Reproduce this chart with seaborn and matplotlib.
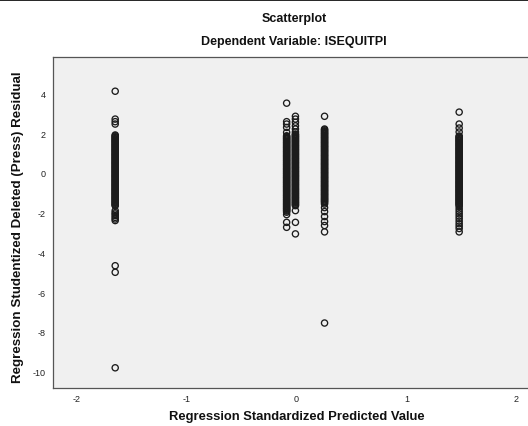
import matplotlib
matplotlib.use("Agg")
import matplotlib.pyplot as plt
from matplotlib.lines import Line2D
import pandas as pd
import seaborn as sns

# Standardized predicted values (one vertical band per predicted level)
pred_levels = [-1.65, -0.09, -0.01, 0.255, 1.48]

# Studentized deleted residuals observed at each predicted level
resid_a = [4.1, 2.7, 2.57, 2.45,
           1.9, 1.86, 1.81, 1.77, 1.72, 1.68, 1.63, 1.59, 1.55, 1.5, 1.46, 1.41, 1.37,
           1.33, 1.28, 1.24, 1.19, 1.15, 1.11, 1.06, 1.02, 0.97, 0.93, 0.89, 0.84, 0.8,
           0.75, 0.71, 0.67, 0.62, 0.58, 0.53, 0.49, 0.45, 0.4, 0.36, 0.31, 0.27, 0.23,
           0.18, 0.14, 0.09, 0.05, 0.01, -0.04, -0.08, -0.13, -0.17, -0.21, -0.26, -0.3,
           -0.35, -0.39, -0.43, -0.48, -0.52, -0.57, -0.61, -0.65, -0.7, -0.74, -0.79,
           -0.83, -0.87, -0.92, -0.96, -1.01, -1.05, -1.09, -1.14, -1.18, -1.23, -1.27,
           -1.31, -1.36, -1.4, -1.45, -1.49, -1.53, -1.58, -1.62, -1.65,
           -1.9, -2.0, -2.07, -2.15, -2.24, -2.32, -2.4, -4.67, -5.0, -9.8]
resid_b = [3.5, 2.57, 2.45, 2.28, 2.03,
           1.86, 1.82, 1.77, 1.73, 1.69, 1.64, 1.6, 1.55, 1.51, 1.47, 1.42, 1.38, 1.33,
           1.29, 1.25, 1.2, 1.16, 1.11, 1.07, 1.03, 0.98, 0.94, 0.89, 0.85, 0.81, 0.76,
           0.72, 0.67, 0.63, 0.59, 0.54, 0.5, 0.45, 0.41, 0.37, 0.32, 0.28, 0.23, 0.19,
           0.15, 0.1, 0.06, 0.01, -0.03, -0.07, -0.12, -0.16, -0.21, -0.25, -0.29, -0.34,
           -0.38, -0.43, -0.47, -0.51, -0.56, -0.6, -0.65, -0.69, -0.73, -0.78, -0.82,
           -0.87, -0.91, -0.95, -1.0, -1.04, -1.09, -1.13, -1.17, -1.22, -1.26, -1.31,
           -1.35, -1.39, -1.44, -1.48, -1.53, -1.57, -1.61, -1.66, -1.7, -1.75, -1.79,
           -1.83, -1.88, -1.92, -1.98, -2.1, -2.49, -2.74]
resid_c = [2.84, 2.7, 2.54, 2.36, 2.2, 2.05,
           1.95, 1.91, 1.86, 1.82, 1.78, 1.73, 1.69, 1.64, 1.6, 1.56, 1.51, 1.47, 1.42,
           1.38, 1.34, 1.29, 1.25, 1.2, 1.16, 1.12, 1.07, 1.03, 0.98, 0.94, 0.9, 0.85,
           0.81, 0.76, 0.72, 0.68, 0.63, 0.59, 0.54, 0.5, 0.46, 0.41, 0.37, 0.32, 0.28,
           0.24, 0.19, 0.15, 0.1, 0.06, 0.02, -0.03, -0.07, -0.12, -0.16, -0.2, -0.25,
           -0.29, -0.34, -0.38, -0.42, -0.47, -0.51, -0.56, -0.6, -0.64, -0.69, -0.73,
           -0.78, -0.82, -0.86, -0.91, -0.95, -1.0, -1.04, -1.08, -1.13, -1.17, -1.22,
           -1.26, -1.3, -1.35, -1.39, -1.44, -1.48, -1.52, -1.57, -1.61, -1.65,
           -1.9, -2.49, -3.07]
resid_d = [2.84,
           2.2, 2.16, 2.11, 2.07, 2.02, 1.98, 1.94, 1.89, 1.85, 1.8, 1.76, 1.72, 1.67,
           1.63, 1.58, 1.54, 1.5, 1.45, 1.41, 1.36, 1.32, 1.28, 1.23, 1.19, 1.14, 1.1,
           1.06, 1.01, 0.97, 0.92, 0.88, 0.84, 0.79, 0.75, 0.7, 0.66, 0.62, 0.57, 0.53,
           0.48, 0.44, 0.4, 0.35, 0.31, 0.26, 0.22, 0.18, 0.13, 0.09, 0.04, 0.0, -0.04,
           -0.09, -0.13, -0.18, -0.22, -0.26, -0.31, -0.35, -0.4, -0.44, -0.48, -0.53,
           -0.57, -0.62, -0.66, -0.7, -0.75, -0.79, -0.84, -0.88, -0.92, -0.97, -1.01,
           -1.06, -1.1, -1.14, -1.19, -1.23, -1.28, -1.32, -1.36, -1.41, -1.45, -1.5,
           -1.57, -1.75, -1.95, -2.2, -2.45, -2.65, -2.97, -7.55]
resid_e = [3.05, 2.45, 2.25, 2.05,
           1.85, 1.81, 1.76, 1.72, 1.67, 1.63, 1.59, 1.54, 1.5, 1.45, 1.41, 1.37, 1.32,
           1.28, 1.23, 1.19, 1.15, 1.1, 1.06, 1.01, 0.97, 0.93, 0.88, 0.84, 0.79, 0.75,
           0.71, 0.66, 0.62, 0.57, 0.53, 0.49, 0.44, 0.4, 0.35, 0.31, 0.27, 0.22, 0.18,
           0.13, 0.09, 0.05, 0.0, -0.04, -0.08, -0.13, -0.17, -0.22, -0.26, -0.3, -0.35,
           -0.39, -0.44, -0.48, -0.52, -0.57, -0.61, -0.66, -0.7, -0.74, -0.79, -0.83,
           -0.88, -0.92, -0.96, -1.01, -1.05, -1.1, -1.14, -1.18, -1.23, -1.27, -1.32,
           -1.36, -1.4, -1.45, -1.49, -1.54, -1.58, -1.62, -1.7,
           -1.82, -1.94, -2.06, -2.18, -2.3, -2.43, -2.56, -2.68, -2.8, -2.97]

x_ticks = [-2, -1, 0, 1, 2]
y_ticks = [4, 2, 0, -2, -4, -6, -8, -10]

title_main = "Scatterplot"
title_sub = "Dependent Variable: ISEQUITPI"
x_label = "Regression Standardized Predicted Value"
y_label = "Regression Studentized Deleted (Press) Residual"

rows = []
for level, values in zip(pred_levels, [resid_a, resid_b, resid_c, resid_d, resid_e]):
    for v in values:
        rows.append({"pred": level, "resid": v})
df = pd.DataFrame(rows)

sns.set_style("white")
plt.rcParams["font.family"] = ["Liberation Sans", "DejaVu Sans"]

W, H = 528, 427
fig = plt.figure(figsize=(W / 100, H / 100), dpi=100)
fig.patch.set_facecolor("white")

# plot panel in pixel coordinates
left, right, top, bottom = 53, 535, 58, 388.5
ax = fig.add_axes([left / W, 1 - bottom / H, (right - left) / W, (bottom - top) / H])
ax.set_facecolor("#f0f0f0")

sns.scatterplot(data=df, x="pred", y="resid", ax=ax, marker="o", s=20,
                facecolor="none", edgecolor="#1c1c1c", linewidth=0.95)
for coll in ax.collections:
    coll.set_facecolor("none")

ax.set_xlim(-2.216, 2.17)
ax.set_ylim(-10.79, 5.82)
ax.set_xticks(x_ticks)
ax.set_yticks(y_ticks)
ax.set_xticklabels([str(t) for t in x_ticks])
ax.set_yticklabels([str(t) for t in y_ticks])
ax.tick_params(axis="both", direction="out", length=3.5, width=0.8,
               color="#444444", labelsize=6.5, labelcolor="#222222", pad=1.5)
ax.set_xlabel("")
ax.set_ylabel("")

for side in ["left", "bottom", "top"]:
    ax.spines[side].set_color("#555555")
    ax.spines[side].set_linewidth(0.9)
ax.spines["right"].set_visible(False)

cx = (left + right) / 2 / W
fig.text(cx, 1 - 19 / H, title_main, ha="center", va="center",
         fontsize=9, fontweight="bold", color="#111111")
fig.text(cx, 1 - 42 / H, title_sub, ha="center", va="center",
         fontsize=9, fontweight="bold", color="#111111")
fig.text(297 / W, 1 - 417 / H, x_label, ha="center", va="center",
         fontsize=9.4, fontweight="bold", color="#111111")
fig.text(18 / W, 1 - 227 / H, y_label, ha="center", va="center", rotation=90,
         fontsize=9.6, fontweight="bold", color="#111111")

# border rule along the top edge of the figure
fig.add_artist(Line2D([0, 1], [1 - 0.7 / H, 1 - 0.7 / H], color="black",
                      linewidth=1.2, transform=fig.transFigure))

fig.savefig("out.png", dpi=100)
